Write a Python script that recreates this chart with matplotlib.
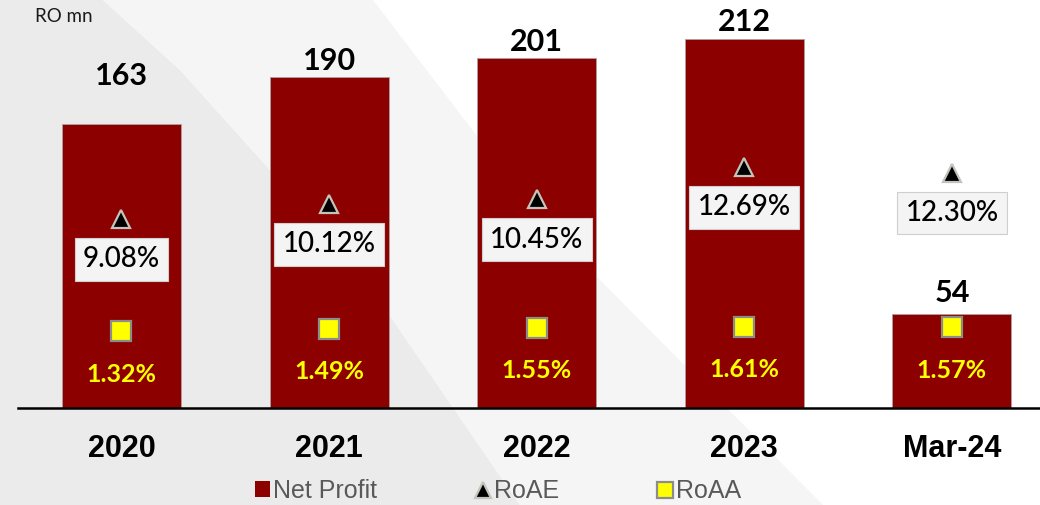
import matplotlib.pyplot as plt
from matplotlib.patches import Polygon, Patch
from matplotlib.lines import Line2D

periods = ['2020', '2021', '2022', '2023', 'Mar-24']
net_profit = [163, 190, 201, 212, 54]
roae = [9.08, 10.12, 10.45, 12.69, 12.30]
roaa = [1.32, 1.49, 1.55, 1.61, 1.57]

W, H = 1040, 505
BAR = '#8c0000'
LABEL_FONT = 'Lato'

fig = plt.figure(figsize=(W / 100, H / 100), dpi=100, facecolor='white')


def px(points):
    return [(x / W, 1 - y / H) for x, y in points]


# diagonal background bands
dark_band = [(0, 0), (103, 0), (180, 70), (270, 170), (388, 313), (520, 505), (0, 505)]
light_band = [(103, 0), (373, 0), (480, 140), (597, 277), (823, 505), (520, 505),
              (388, 313), (270, 170), (180, 70)]
fig.patches.append(Polygon(px(dark_band), closed=True, transform=fig.transFigure,
                           facecolor='#ebebeb', edgecolor='none', zorder=-2))
fig.patches.append(Polygon(px(light_band), closed=True, transform=fig.transFigure,
                           facecolor='#f5f5f5', edgecolor='none', zorder=-2))

ax = fig.add_axes([18 / W, (H - 408) / H, 1 - 18 / W, 408 / H])
ax.set_zorder(1)
ax.patch.set_alpha(0)
x = list(range(len(periods)))
bars = ax.bar(x, net_profit, width=0.573, color=BAR, edgecolor='#b0a0a0', linewidth=0.6, zorder=2)
ax.set_xlim(-0.4985, 4.424)
ax.set_ylim(0, 234.5)

# value labels above bars (2020 one sits a bit higher)
lift = [35, 12, 12, 12, 15]
for xi, v, dy in zip(x, net_profit, lift):
    ax.annotate(str(v), (xi, v), xytext=(0, dy), textcoords='offset points',
                ha='center', va='center', fontsize=22, fontweight='bold',
                family=LABEL_FONT, color='black', zorder=5)

for s in ['top', 'right', 'left']:
    ax.spines[s].set_visible(False)
ax.spines['bottom'].set_linewidth(1.8)
ax.spines['bottom'].set_color('black')
ax.set_yticks([])
ax.set_xticks(x)
ax.set_xticklabels(periods, fontsize=22, fontweight='bold', family='Liberation Sans')
ax.tick_params(axis='x', length=0, pad=19)

# ratios on a secondary scale
ax2 = ax.twinx()
ax2.set_ylim(-4.03, 24.3)
ax2.set_yticks([])
for s in ax2.spines.values():
    s.set_visible(False)
ax2.plot(x, roae, linestyle='none', marker='^', markersize=13, markerfacecolor='black',
         markeredgecolor='#c4c4bc', markeredgewidth=1.6, zorder=4)
ax2.plot(x, roaa, linestyle='none', marker='s', markersize=14, markerfacecolor='#ffff00',
         markeredgecolor='#8c8c8c', markeredgewidth=1.6, zorder=4)

for xi, v in zip(x, roae):
    ax2.annotate(f'{v:.2f}%', (xi, v), xytext=(0, -29), textcoords='offset points',
                 ha='center', va='center', fontsize=20, fontweight='medium',
                 family=LABEL_FONT, color='black',
                 bbox=dict(boxstyle='square,pad=0.3', facecolor='#f4f4f4',
                           edgecolor='#cfcfcf', linewidth=0.8), zorder=5)
for xi, v in zip(x, roaa):
    ax2.annotate(f'{v:.2f}%', (xi, v), xytext=(0, -31), textcoords='offset points',
                 ha='center', va='center', fontsize=18, fontweight='bold',
                 family=LABEL_FONT, color='#ffff00', zorder=5)

fig.text(35 / W, 1 - 17 / H, 'RO mn', fontsize=13.5, family=LABEL_FONT, color='#1a1a1a',
         ha='left', va='center')

handles = [
    Patch(facecolor=BAR, edgecolor='none', label='Net Profit'),
    Line2D([], [], linestyle='none', marker='^', markersize=11, markerfacecolor='black',
           markeredgecolor='#c4c4bc', markeredgewidth=1.6, label='RoAE'),
    Line2D([], [], linestyle='none', marker='s', markersize=11, markerfacecolor='#ffff00',
           markeredgecolor='#8c8c8c', markeredgewidth=1.6, label='RoAA'),
]
leg = fig.legend(handles=handles, loc='center', bbox_to_anchor=(498 / W, 1 - 491 / H),
                 ncol=3, frameon=False, handlelength=0.6, handleheight=0.6,
                 handletextpad=0.12, columnspacing=3.95, borderpad=0,
                 prop={'family': 'Liberation Sans', 'size': 18})
for t in leg.get_texts():
    t.set_color('#595959')

fig.savefig('out.png', dpi=100, facecolor=fig.get_facecolor())
